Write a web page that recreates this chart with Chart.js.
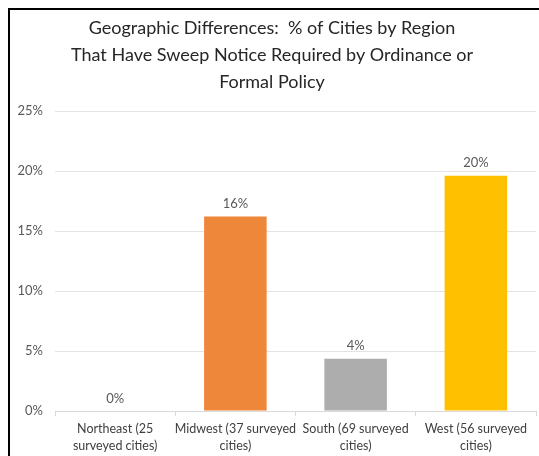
<!DOCTYPE html>
<html>
<head>
<meta charset="utf-8">
<script src="https://cdn.jsdelivr.net/npm/chart.js@4"></script>
<style>
  html, body { margin: 0; padding: 0; background: #fff; }
  #wrap { position: relative; width: 539px; height: 456px; }
</style>
</head>
<body>
<div id="wrap"><canvas id="bargraph" width="539" height="456"></canvas></div>
<script>
var regions = [
    ["Northeast (25", "surveyed cities)"],
    ["Midwest (37 surveyed", "cities)"],
    ["South (69 surveyed", "cities)"],
    ["West (56 surveyed", "cities)"]
];
var percentWithNotice = [0, 16.2, 4.35, 19.6];
var barColors = ["#5b9bd5", "#ef873a", "#adadad", "#ffc000"];
var titleLines = [
    "Geographic Differences:  % of Cities by Region",
    "That Have Sweep Notice Required by Ordinance or",
    "Formal Policy"
];
var yTicks = [0, 5, 10, 15, 20, 25];

var fontName = "Lato, 'Open Sans', sans-serif";

// frame line on the top and left, like the cropped screenshot
var framePlugin = {
    id: "frame",
    afterDraw: function(chart){
        var c = chart.ctx;
        c.save();
        c.strokeStyle = "#000";
        c.lineWidth = 2;
        c.beginPath();
        c.moveTo(9, 456);
        c.lineTo(9, 9);
        c.lineTo(539, 9);
        c.stroke();
        c.restore();
    }
};

// value labels above each bar
var valueLabels = {
    id: "valueLabels",
    afterDatasetsDraw: function(chart){
        var c = chart.ctx;
        var meta = chart.getDatasetMeta(0);
        c.save();
        c.font = "13px " + fontName;
        c.fillStyle = "#595959";
        c.textAlign = "center";
        c.textBaseline = "bottom";
        meta.data.forEach(function(bar, i){
            c.fillText(Math.round(percentWithNotice[i]) + "%", bar.x, bar.y - 6);
        });
        c.restore();
    }
};

var chart = new Chart(document.getElementById("bargraph"), {
    type: "bar",
    data: {
        labels: regions,
        datasets: [{
            data: percentWithNotice,
            backgroundColor: barColors,
            borderWidth: 0,
            categoryPercentage: 1,
            barPercentage: 0.52
        }]
    },
    options: {
        responsive: false,
        animation: false,
        layout: { padding: { top: 15, left: 8, right: 3, bottom: 0 } },
        plugins: {
            legend: { display: false },
            tooltip: { enabled: false },
            title: {
                display: true,
                text: titleLines,
                color: "#262626",
                font: { family: fontName, size: 18, weight: "normal", lineHeight: 1.5 },
                padding: { top: 0, bottom: 15 }
            }
        },
        scales: {
            x: {
                grid: { display: true, drawOnChartArea: false, offset: true, color: "#d9d9d9", tickLength: 5 },
                border: { color: "#d9d9d9" },
                ticks: {
                    color: "#404040",
                    font: { family: fontName, size: 12.5, lineHeight: 1.35 },
                    maxRotation: 0,
                    autoSkip: false,
                    padding: 5
                },
                afterFit: function(scale){ scale.height = 45; }
            },
            y: {
                min: 0,
                max: 25,
                afterBuildTicks: function(scale){
                    scale.ticks = yTicks.map(function(v){ return { value: v }; });
                },
                grid: { color: "#e3e3e3", drawTicks: false },
                border: { display: false },
                ticks: {
                    color: "#595959",
                    font: { family: fontName, size: 13 },
                    padding: 12,
                    callback: function(v){ return v + "%"; }
                },
                afterFit: function(scale){ scale.width = 47; }
            }
        }
    },
    plugins: [framePlugin, valueLabels]
});
</script>
</body>
</html>
